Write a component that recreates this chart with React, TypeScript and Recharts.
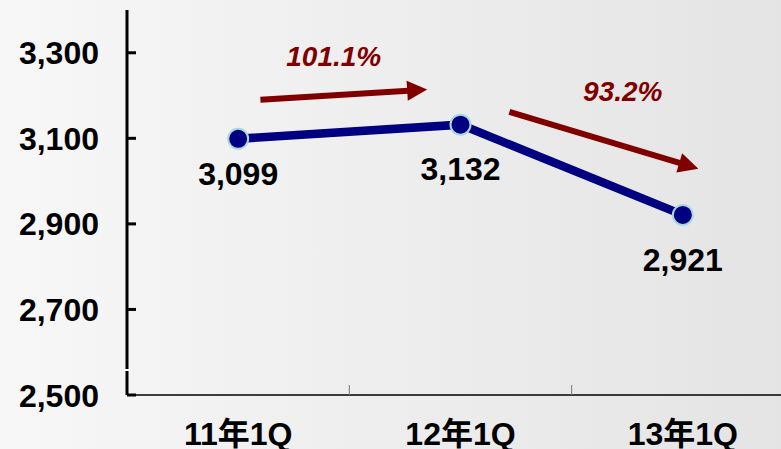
import React from 'react';
import { LineChart, Line, XAxis, YAxis, ReferenceLine, ReferenceDot, LabelList } from 'recharts';

// quarters and head counts
const quarters = ['11年1Q', '12年1Q', '13年1Q'];
const values = [3099, 3132, 2921];
const yTicks = [2500, 2700, 2900, 3100, 3300];

// year-on-year ratios, drawn as arrows between the points (x in category-index units)
const ratioLabels = ['101.1%', '93.2%'];
const arrowFrom = [
  { x: 0.1, y: 3190 },
  { x: 1.22, y: 3162 },
];
const arrowTo = [
  { x: 0.85, y: 3214 },
  { x: 2.07, y: 3029 },
];
const ratioAnchor = [
  { x: 0.43, y: 3293 },
  { x: 1.73, y: 3211 },
];

const data = quarters.map((q, i) => ({ name: q, idx: i, value: values[i] }));

const W = 800;
const H = 449;
const M = { top: 10, right: 6, bottom: 0, left: 0 };
const Y_W = 127;
const X_H = 54;
const HALF_BAND = (W - M.left - M.right - Y_W) / quarters.length / 2;
const LABEL_GAP = [24, 33, 34];

const FONT = "'Liberation Sans', Arial, 'Noto Sans CJK JP', sans-serif";
const NAVY = '#000080';
const DARK_RED = '#800000';

const YTick = (props: any) => {
  const { x, y, payload } = props;
  return (
    <g>
      <line x1={x} y1={y} x2={x + 9} y2={y} stroke="#000" strokeWidth={3} />
      {payload.value === yTicks[0] && <rect x={x - 3} y={y - 26} width={6} height={2} fill="#fff" />}
      <text x={x - 28} y={y} dy="0.36em" textAnchor="end" fontFamily={FONT} fontSize={32} fontWeight="bold" fill="#000">
        {payload.value.toLocaleString('en-US')}
      </text>
    </g>
  );
};

const XTick = (props: any) => {
  const { x, y, payload, index } = props;
  return (
    <g>
      {index < quarters.length - 1 && (
        <line x1={x + HALF_BAND} y1={y - 10} x2={x + HALF_BAND} y2={y} stroke="#777" strokeWidth={1} />
      )}
      <text x={x} y={y + 50} textAnchor="middle" fontFamily={FONT} fontSize={32} fontWeight="bold" fill="#000">
        {payload.value}
      </text>
    </g>
  );
};

const Arrow = (props: any) => {
  const { x1, y1, x2, y2 } = props;
  const len = Math.hypot(x2 - x1, y2 - y1);
  const ux = (x2 - x1) / len;
  const uy = (y2 - y1) / len;
  const head = 20;
  const half = 10;
  const bx = x2 - ux * head;
  const by = y2 - uy * head;
  return (
    <g>
      <line x1={x1} y1={y1} x2={bx + ux} y2={by + uy} stroke={DARK_RED} strokeWidth={6} />
      <polygon
        points={`${x2},${y2} ${bx - uy * half},${by + ux * half} ${bx + uy * half},${by - ux * half}`}
        fill={DARK_RED}
      />
    </g>
  );
};

const ValueLabel = (props: any) => {
  const { x, y, value, index } = props;
  return (
    <text x={x} y={y + LABEL_GAP[index] + 22} textAnchor="middle" fontFamily={FONT} fontSize={32} fontWeight="bold" fill="#000">
      {Number(value).toLocaleString('en-US')}
    </text>
  );
};

export default function App() {
  return (
    <div
      style={{
        position: 'absolute',
        left: 0,
        top: 0,
        width: 781,
        height: 449,
        overflow: 'hidden',
        background: 'linear-gradient(to right, #f7f7f7, #e4e4e4)',
      }}
    >
      <LineChart width={W} height={H} data={data} margin={M}>
        <XAxis
          dataKey="name"
          height={X_H}
          padding={{ left: HALF_BAND, right: HALF_BAND }}
          axisLine={{ stroke: '#000', strokeWidth: 1.5 }}
          tickLine={false}
          tickSize={0}
          tickMargin={0}
          interval={0}
          tick={<XTick />}
        />
        <XAxis
          xAxisId="num"
          dataKey="idx"
          type="number"
          domain={[0, quarters.length - 1]}
          padding={{ left: HALF_BAND, right: HALF_BAND }}
          allowDataOverflow
          hide
        />
        <YAxis
          width={Y_W}
          domain={[2500, 3400]}
          ticks={yTicks}
          allowDataOverflow
          axisLine={{ stroke: '#000', strokeWidth: 3 }}
          tickLine={false}
          tickSize={0}
          tickMargin={0}
          tick={<YTick />}
        />
        {arrowFrom.map((a, i) => (
          <ReferenceLine
            key={`arrow-${i}`}
            xAxisId="num"
            segment={[a, arrowTo[i]]}
            ifOverflow="visible"
            shape={(p: any) => <Arrow {...p} />}
          />
        ))}
        {ratioAnchor.map((a, i) => (
          <ReferenceDot
            key={`ratio-${i}`}
            xAxisId="num"
            x={a.x}
            y={a.y}
            r={0}
            ifOverflow="visible"
            shape={(p: any) => (
              <text
                x={p.cx}
                y={p.cy}
                dy="0.36em"
                textAnchor="middle"
                fontFamily={FONT}
                fontSize={28}
                fontWeight="bold"
                fontStyle="italic"
                fill={DARK_RED}
              >
                {ratioLabels[i]}
              </text>
            )}
          />
        ))}
        <Line
          type="linear"
          dataKey="value"
          stroke={NAVY}
          strokeWidth={8.5}
          dot={{ r: 10, fill: NAVY, stroke: '#a8d8e0', strokeWidth: 2 }}
          activeDot={false}
          isAnimationActive={false}
        >
          <LabelList dataKey="value" content={<ValueLabel />} />
        </Line>
      </LineChart>
    </div>
  );
}
